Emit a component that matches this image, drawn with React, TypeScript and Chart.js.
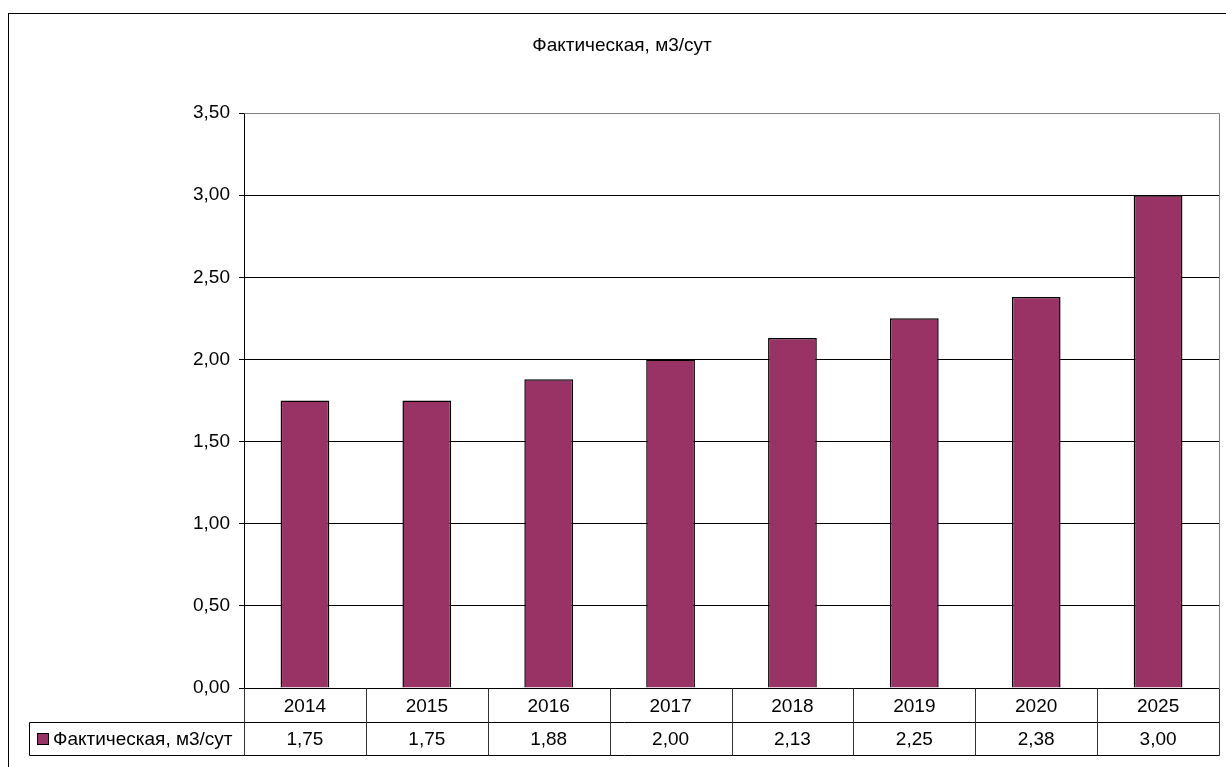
import React, { useEffect, useRef } from "react";
import { Chart, registerables } from "chart.js";

Chart.register(...registerables);

const categories: string[] = ["2014", "2015", "2016", "2017", "2018", "2019", "2020", "2025"];
const seriesName = "Фактическая, м3/сут";
const seriesValues: number[] = [1.75, 1.75, 1.88, 2.0, 2.13, 2.25, 2.38, 3.0];
const yMin = 0;
const yMax = 3.5;
const yStep = 0.5;
const titleText = "Фактическая, м3/сут";

const BAR_COLOR = "#993366";
const FONT = "Liberation Sans, Arial, sans-serif";
const FONT_SIZE = 19;

const fmt = (v: number) => v.toFixed(2).replace(".", ",");

const tablePlugin = {
  id: "excelTable",
  afterDraw(chart: any) {
    const ctx = chart.ctx as CanvasRenderingContext2D;
    const area = chart.chartArea;
    const xs = chart.scales.x;
    ctx.save();
    // outer frame
    ctx.strokeStyle = "#000";
    ctx.lineWidth = 1;
    ctx.strokeRect(8.5, 13.5, 1400, 900);

    // title
    ctx.fillStyle = "#000";
    ctx.font = `${FONT_SIZE}px ${FONT}`;
    ctx.textAlign = "center";
    ctx.textBaseline = "middle";
    ctx.fillText(titleText, 622, 46);

    // plot border top/right (gray)
    ctx.strokeStyle = "#808080";
    ctx.beginPath();
    ctx.moveTo(Math.round(area.left) + 0.5, Math.round(area.top) + 0.5);
    ctx.lineTo(Math.round(area.right) + 0.5, Math.round(area.top) + 0.5);
    ctx.lineTo(Math.round(area.right) + 0.5, Math.round(area.bottom) + 0.5);
    ctx.stroke();

    // data table
    const rowH = 34;
    const r0 = Math.round(area.bottom) + 0.5;
    const r1 = r0 + rowH;
    const r2 = r1 + rowH - 1;
    const legendLeft = 29.5;
    const n = categories.length;
    const step = (area.right - area.left) / n;
    ctx.strokeStyle = "#000";
    ctx.beginPath();
    ctx.moveTo(legendLeft, r1);
    ctx.lineTo(Math.round(area.right) + 0.5, r1);
    ctx.moveTo(legendLeft, r2);
    ctx.lineTo(Math.round(area.right) + 0.5, r2);
    ctx.moveTo(legendLeft, r1);
    ctx.lineTo(legendLeft, r2);
    ctx.stroke();
    ctx.strokeStyle = "#333";
    ctx.beginPath();
    for (let i = 0; i <= n; i++) {
      const x = Math.round(area.left + i * step) + 0.5;
      ctx.moveTo(x, r0);
      ctx.lineTo(x, r2);
    }
    ctx.stroke();

    ctx.fillStyle = "#000";
    ctx.font = `${FONT_SIZE}px ${FONT}`;
    ctx.textAlign = "center";
    ctx.textBaseline = "middle";
    for (let i = 0; i < n; i++) {
      const cx = xs.getPixelForValue(i);
      ctx.fillText(categories[i], cx, (r0 + r1) / 2 + 1);
      ctx.fillText(fmt(seriesValues[i]), cx, (r1 + r2) / 2 + 1);
    }
    // legend key
    ctx.fillStyle = BAR_COLOR;
    ctx.fillRect(37, 733, 12, 12);
    ctx.strokeStyle = "#000";
    ctx.strokeRect(37.5, 733.5, 11, 11);
    ctx.fillStyle = "#000";
    ctx.textAlign = "left";
    ctx.fillText(seriesName, 53, (r1 + r2) / 2 + 1);
    ctx.restore();
  },
};

export default function App() {
  const ref = useRef<HTMLCanvasElement>(null);
  useEffect(() => {
    if (!ref.current) return;
    const chart = new Chart(ref.current, {
      type: "bar",
      data: {
        labels: categories,
        datasets: [
          {
            label: seriesName,
            data: seriesValues,
            backgroundColor: BAR_COLOR,
            borderColor: "#000",
            borderWidth: 1.5,
            barPercentage: 0.4,
            categoryPercentage: 1,
          },
        ],
      },
      options: {
        responsive: false,
        animation: false,
        devicePixelRatio: 1,
        layout: { padding: { left: 0, top: 113, right: 7, bottom: 0 } },
        plugins: {
          legend: { display: false },
          title: { display: false },
          tooltip: { enabled: false },
        },
        scales: {
          x: {
            grid: { display: false, drawTicks: false },
            border: { display: false },
            ticks: { display: false },
            afterFit: (s: any) => {
              s.height = 79;
            },
          },
          y: {
            min: yMin,
            max: yMax,
            ticks: {
              stepSize: yStep,
              padding: 9,
              color: "#000",
              font: { family: FONT, size: FONT_SIZE },
              callback: (v: any) => fmt(Number(v)),
            },
            grid: {
              color: (c: any) => (c.tick && c.tick.value === yMax ? "#808080" : "#000"),
              tickColor: "#000",
              tickLength: 5,
              lineWidth: 1,
            },
            border: { display: true, color: "#000", width: 1 },
            afterFit: (s: any) => {
              s.width = 244;
            },
          },
        },
      },
      plugins: [tablePlugin],
    });
    return () => chart.destroy();
  }, []);
  return (
    <div style={{ position: "fixed", left: 0, top: 0, width: 1226, height: 767, background: "#fff" }}>
      <canvas ref={ref} width={1226} height={767} style={{ display: "block" }} />
    </div>
  );
}
